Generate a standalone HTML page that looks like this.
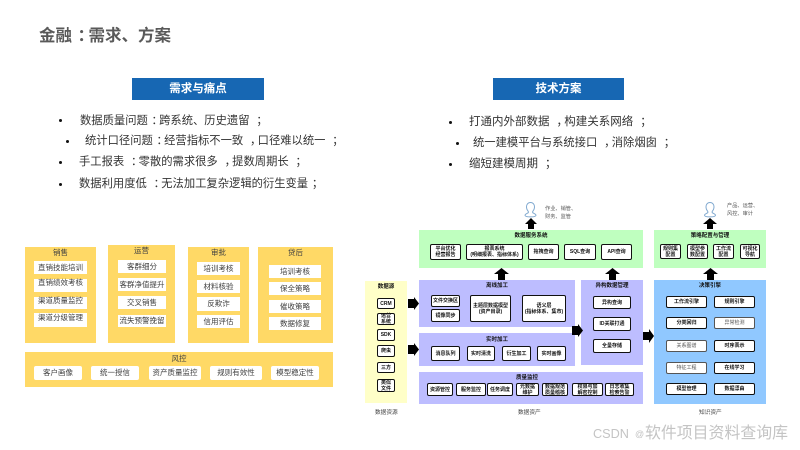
<!DOCTYPE html>
<html lang="zh">
<head>
<meta charset="utf-8">
<title>金融：需求、方案</title>
<style>
html,body{margin:0;padding:0;background:#fff}
#p{position:relative;width:800px;height:450px;overflow:hidden;background:#fff;font-family:"Liberation Sans","Noto Sans CJK SC",sans-serif}
#p div{position:absolute;box-sizing:border-box;white-space:nowrap}
#p svg{position:absolute;overflow:visible}
.m{position:relative;left:.33em}
.banner{background:#1767B3;color:#fff;font-weight:bold;font-size:11.5px;text-align:center;line-height:22px}
.li{font-size:11.3px;line-height:16px;color:#333;height:16px}
.dot{width:3px;height:3px;border-radius:50%;background:#111}
.y{background:#FFD966}
.yt{font-size:7.5px;color:#404040;text-align:center;line-height:10px}
.w{background:#fff;font-size:7.5px;color:#404040;text-align:center}
.r{border-radius:2px}
.g{background:#BFFFBF}
.v{background:#BDBDFF}
.s{background:#FFFFC8}
.u{background:#90C8FF}
.h{font-size:5.5px;font-weight:bold;color:#111;text-align:center;line-height:8px}
.d,.e{display:flex;align-items:center;justify-content:center;text-align:center;background:#fff;border-radius:2px;font-size:5px;line-height:6px}
.d{border:1px solid #111;font-weight:bold;color:#111}
.e{border:1px solid #555;color:#555}
.c{font-size:5.2px;color:#555;line-height:7.5px}
.l{font-size:5.7px;color:#444;line-height:8px}
.wm{color:#c4c4c4;line-height:20px;top:424px}
</style>
</head>
<body>
<div id="p">
<div style="left:39px;top:26px;font-size:16.5px;line-height:20px;font-weight:bold;color:#595959">金融<span class="m">：</span>需求、方案</div>

<div class="banner" style="left:132px;top:78px;width:132px;height:22px">需求与痛点</div>
<div class="banner" style="left:493px;top:78px;width:131px;height:22px">技术方案</div>

<div class="dot" style="left:59px;top:119px"></div>
<div class="li" style="left:80px;top:113px">数据质量问题<span class="m">：</span>跨系统、历史遗留 <span class="m">；</span></div>
<div class="dot" style="left:66px;top:140px"></div>
<div class="li" style="left:85px;top:133px">统计口径问题<span class="m">：</span>经营指标不一致 <span class="m">，</span>口径难以统一 <span class="m">；</span></div>
<div class="dot" style="left:59px;top:161px"></div>
<div class="li" style="left:79px;top:154px">手工报表 <span class="m">：</span>零散的需求很多 <span class="m">，</span>提数周期长 <span class="m">；</span></div>
<div class="dot" style="left:59px;top:183px"></div>
<div class="li" style="left:79px;top:176px">数据利用度低 <span class="m">：</span>无法加工复杂逻辑的衍生变量<span class="m">；</span></div>

<div class="dot" style="left:449px;top:121px"></div>
<div class="li" style="left:469px;top:114px;font-size:11.5px">打通内外部数据 <span class="m">，</span>构建关系网络 <span class="m">；</span></div>
<div class="dot" style="left:456px;top:142px"></div>
<div class="li" style="left:473px;top:135px;font-size:11.3px">统一建模平台与系统接口 <span class="m">，</span>消除烟囱 <span class="m">；</span></div>
<div class="dot" style="left:449px;top:163px"></div>
<div class="li" style="left:469px;top:156px;font-size:11.5px">缩短建模周期 <span class="m">；</span></div>

<!-- Left yellow panels -->
<div class="y" style="left:25px;top:247px;width:71px;height:96px"></div>
<div class="yt" style="left:25px;top:248px;width:71px">销售</div>
<div class="w" style="left:34px;top:261px;width:53px;height:13px;line-height:13px">直销技能培训</div>
<div class="w" style="left:34px;top:279px;width:53px;height:13px;line-height:8px">直销绩效考核</div>
<div class="w" style="left:34px;top:297px;width:53px;height:12px;line-height:7px">渠道质量监控</div>
<div class="w" style="left:34px;top:313px;width:53px;height:14px;line-height:10px">渠道分级管理</div>

<div class="y" style="left:108px;top:245px;width:67px;height:98px"></div>
<div class="yt" style="left:108px;top:246px;width:67px">运营</div>
<div class="w" style="left:118px;top:260px;width:48px;height:13px;line-height:13px">客群细分</div>
<div class="w" style="left:118px;top:278px;width:48px;height:13px;line-height:13px">客群净值提升</div>
<div class="w" style="left:118px;top:296px;width:48px;height:13px;line-height:13px">交叉销售</div>
<div class="w" style="left:118px;top:315px;width:48px;height:12px;line-height:12px">流失预警挽留</div>

<div class="y" style="left:188px;top:247px;width:61px;height:96px"></div>
<div class="yt" style="left:188px;top:248px;width:61px">审批</div>
<div class="w" style="left:197px;top:262px;width:43px;height:13px;line-height:13px">培训考核</div>
<div class="w" style="left:197px;top:280px;width:43px;height:13px;line-height:13px">材料核验</div>
<div class="w" style="left:197px;top:297px;width:43px;height:14px;line-height:14px">反欺诈</div>
<div class="w" style="left:197px;top:315px;width:43px;height:13px;line-height:13px">信用评估</div>

<div class="y" style="left:258px;top:247px;width:75px;height:96px"></div>
<div class="yt" style="left:258px;top:248px;width:75px">贷后</div>
<div class="w" style="left:269px;top:265px;width:52px;height:13px;line-height:13px">培训考核</div>
<div class="w" style="left:269px;top:282px;width:52px;height:13px;line-height:13px">保全策略</div>
<div class="w" style="left:269px;top:300px;width:52px;height:13px;line-height:13px">催收策略</div>
<div class="w" style="left:269px;top:317px;width:52px;height:13px;line-height:13px">数据修复</div>

<div class="y" style="left:25px;top:352px;width:308px;height:35px"></div>
<div class="yt" style="left:25px;top:354px;width:308px">风控</div>
<div class="w r" style="left:34px;top:366px;width:48px;height:14px;line-height:14px">客户画像</div>
<div class="w r" style="left:91px;top:366px;width:48px;height:14px;line-height:14px">统一授信</div>
<div class="w r" style="left:149px;top:366px;width:52px;height:14px;line-height:14px">资产质量监控</div>
<div class="w r" style="left:210px;top:366px;width:52px;height:14px;line-height:14px">规则有效性</div>
<div class="w r" style="left:271px;top:366px;width:48px;height:14px;line-height:14px">模型稳定性</div>

<!-- Data source -->
<div class="s" style="left:365px;top:281px;width:42px;height:122px"></div>
<div class="h" style="left:365px;top:283px;width:42px">数据源</div>
<div class="d" style="left:377px;top:298px;width:18px;height:11px">CRM</div>
<div class="d" style="left:377px;top:313px;width:18px;height:12px">运营<br>系统</div>
<div class="d" style="left:377px;top:329px;width:18px;height:12px">SDK</div>
<div class="d" style="left:377px;top:345px;width:18px;height:12px">爬虫</div>
<div class="d" style="left:377px;top:362px;width:18px;height:11px">三方</div>
<div class="d" style="left:377px;top:379px;width:18px;height:13px">类似<br>文件</div>

<!-- Data service -->
<div class="g" style="left:419px;top:230px;width:224px;height:38px"></div>
<div class="h" style="left:419px;top:232px;width:224px">数据服务系统</div>
<div class="d" style="left:430px;top:244px;width:31px;height:16px">平台优化<br>经营报告</div>
<div class="d" style="left:466px;top:244px;width:57px;height:16px">报表系统<br>(明细报表、指标体系)</div>
<div class="d" style="left:528px;top:244px;width:31px;height:16px">拖拽查询</div>
<div class="d" style="left:564px;top:244px;width:32px;height:16px">SQL查询</div>
<div class="d" style="left:601px;top:244px;width:31px;height:16px">API查询</div>

<!-- Offline -->
<div class="v" style="left:419px;top:280px;width:156px;height:47px"></div>
<div class="h" style="left:419px;top:282px;width:156px">离线加工</div>
<div class="d" style="left:431px;top:295px;width:29px;height:12px">文件交换区</div>
<div class="d" style="left:431px;top:309px;width:29px;height:13px">镜像同步</div>
<div class="d" style="left:470px;top:295px;width:41px;height:27px">主题层数据模型<br>(资产目录)</div>
<div class="d" style="left:522px;top:295px;width:44px;height:27px">语义层<br>(指标体系、集市)</div>

<!-- Realtime -->
<div class="v" style="left:419px;top:333px;width:156px;height:33px"></div>
<div class="h" style="left:419px;top:336px;width:156px">实时加工</div>
<div class="d" style="left:431px;top:346px;width:29px;height:15px">消息队列</div>
<div class="d" style="left:467px;top:346px;width:28px;height:15px">实时清洗</div>
<div class="d" style="left:502px;top:346px;width:29px;height:15px">衍生加工</div>
<div class="d" style="left:537px;top:346px;width:29px;height:15px">实时画像</div>

<!-- Quality -->
<div class="v" style="left:419px;top:372px;width:224px;height:32px"></div>
<div class="h" style="left:419px;top:374px;width:224px;padding-right:8px">质量监控</div>
<div class="d" style="left:427px;top:383px;width:26px;height:13px">资源管控</div>
<div class="d" style="left:456px;top:383px;width:30px;height:13px">服务监控</div>
<div class="d" style="left:487px;top:383px;width:26px;height:13px">任务调度</div>
<div class="d" style="left:516px;top:383px;width:23px;height:13px">元数据<br>维护</div>
<div class="d" style="left:542px;top:383px;width:26px;height:13px">数据规范<br>质量稽核</div>
<div class="d" style="left:572px;top:383px;width:31px;height:13px">权限与加<br>解密控制</div>
<div class="d" style="left:605px;top:383px;width:29px;height:13px">日志收集<br>检索告警</div>

<!-- Heterogeneous -->
<div class="v" style="left:581px;top:280px;width:62px;height:85px"></div>
<div class="h" style="left:581px;top:282px;width:62px">异构数据管理</div>
<div class="d" style="left:593px;top:296px;width:38px;height:13px">异构查询</div>
<div class="d" style="left:593px;top:317px;width:38px;height:14px">ID关联打通</div>
<div class="d" style="left:593px;top:339px;width:38px;height:14px">全量存储</div>

<!-- Strategy -->
<div class="g" style="left:654px;top:230px;width:112px;height:38px"></div>
<div class="h" style="left:654px;top:232px;width:112px">策略配置与管理</div>
<div class="d" style="left:660px;top:244px;width:21px;height:15px">规则集<br>配置</div>
<div class="d" style="left:687px;top:244px;width:21px;height:15px">模型参<br>数配置</div>
<div class="d" style="left:713px;top:244px;width:21px;height:15px">工作流<br>配置</div>
<div class="d" style="left:740px;top:244px;width:20px;height:15px">可视化<br>导航</div>

<!-- Decision -->
<div class="u" style="left:654px;top:280px;width:112px;height:124px"></div>
<div class="h" style="left:654px;top:282px;width:112px">决策引擎</div>
<div class="d" style="left:666px;top:296px;width:41px;height:12px">工作流引擎</div>
<div class="d" style="left:714px;top:296px;width:41px;height:12px">规则引擎</div>
<div class="d" style="left:666px;top:317px;width:41px;height:12px">分类回归</div>
<div class="e" style="left:714px;top:317px;width:41px;height:12px">异常检测</div>
<div class="e" style="left:666px;top:340px;width:41px;height:12px">关系图谱</div>
<div class="d" style="left:714px;top:340px;width:41px;height:12px">时序表示</div>
<div class="e" style="left:666px;top:362px;width:41px;height:12px">特征工程</div>
<div class="d" style="left:714px;top:362px;width:41px;height:12px">在线学习</div>
<div class="d" style="left:666px;top:383px;width:41px;height:12px">模型管理</div>
<div class="d" style="left:714px;top:383px;width:41px;height:12px">数据漂由</div>

<!-- Arrows -->
<svg width="800" height="450" style="left:0;top:0" viewBox="0 0 800 450">
<g fill="#000">
<polygon points="498,280 505,280 505,274 509,274 501.5,268 494,274 498,274"/>
<polygon points="528,229 534,229 534,224 537,224 531,218 525,224 528,224"/>
<polygon points="609,280 616,280 616,274 620,274 612.5,268 605,274 609,274"/>
<polygon points="707,280 714,280 714,274 718,274 710.5,268 703,274 707,274"/>
<polygon points="707,229 713,229 713,224 717,224 710,218 703,224 707,224"/>
<polygon points="408,299 414,299 414,297 419,303.5 414,310 414,308 408,308"/>
<polygon points="408,345 414,345 414,343 419,349.5 414,356 414,354 408,354"/>
<polygon points="572,326 578,326 578,324 583,330.5 578,337 578,335 572,335"/>
<polygon points="643,332 649,332 649,329 654,336 649,343 649,340 643,340"/>
</g>
<g fill="none" stroke="#7FA8CF" stroke-width="1">
<path d="M530.5 202.5c-2.6 0-4 2-4 4.4 0 1.900.8 3.400 1.800 4.500v1.300c-1.500.8-3 1.300-3.300 2.400 0 1 1.500 1.800 5.500 1.800s5.500-.8 5.500-1.800c-.3-1.100-1.800-1.600-3.300-2.400v-1.300c1-1.100 1.800-2.600 1.800-4.500 0-2.400-1.400-4.400-4-4.400z"/>
<path d="M710 202.500c-2.600 0-4 2-4 4.400 0 1.900.8 3.400 1.800 4.500v1.300c-1.500.8-3 1.300-3.300 2.400 0 1 1.500 1.800 5.500 1.800s5.500-.8 5.500-1.800c-.3-1.100-1.800-1.600-3.300-2.400v-1.300c1-1.100 1.800-2.600 1.800-4.500 0-2.400-1.400-4.400-4-4.400z"/>
</g>
</svg>

<div class="c" style="left:545px;top:206px">作业、销管、<br>财务、监管</div>
<div class="c" style="left:727px;top:203px">产品、运营、<br>风控、审计</div>

<div class="l" style="left:375px;top:409px">数据资源</div>
<div class="l" style="left:518px;top:409px">数据资产</div>
<div class="l" style="left:699px;top:409px">知识资产</div>

<div class="wm" style="left:593px;font-size:12.7px">CSDN</div>
<div class="wm" style="left:635px;font-size:9px">@</div>
<div class="wm" style="left:645px;font-size:15.9px">软件项目资料查询库</div>
</div>
</body>
</html>
